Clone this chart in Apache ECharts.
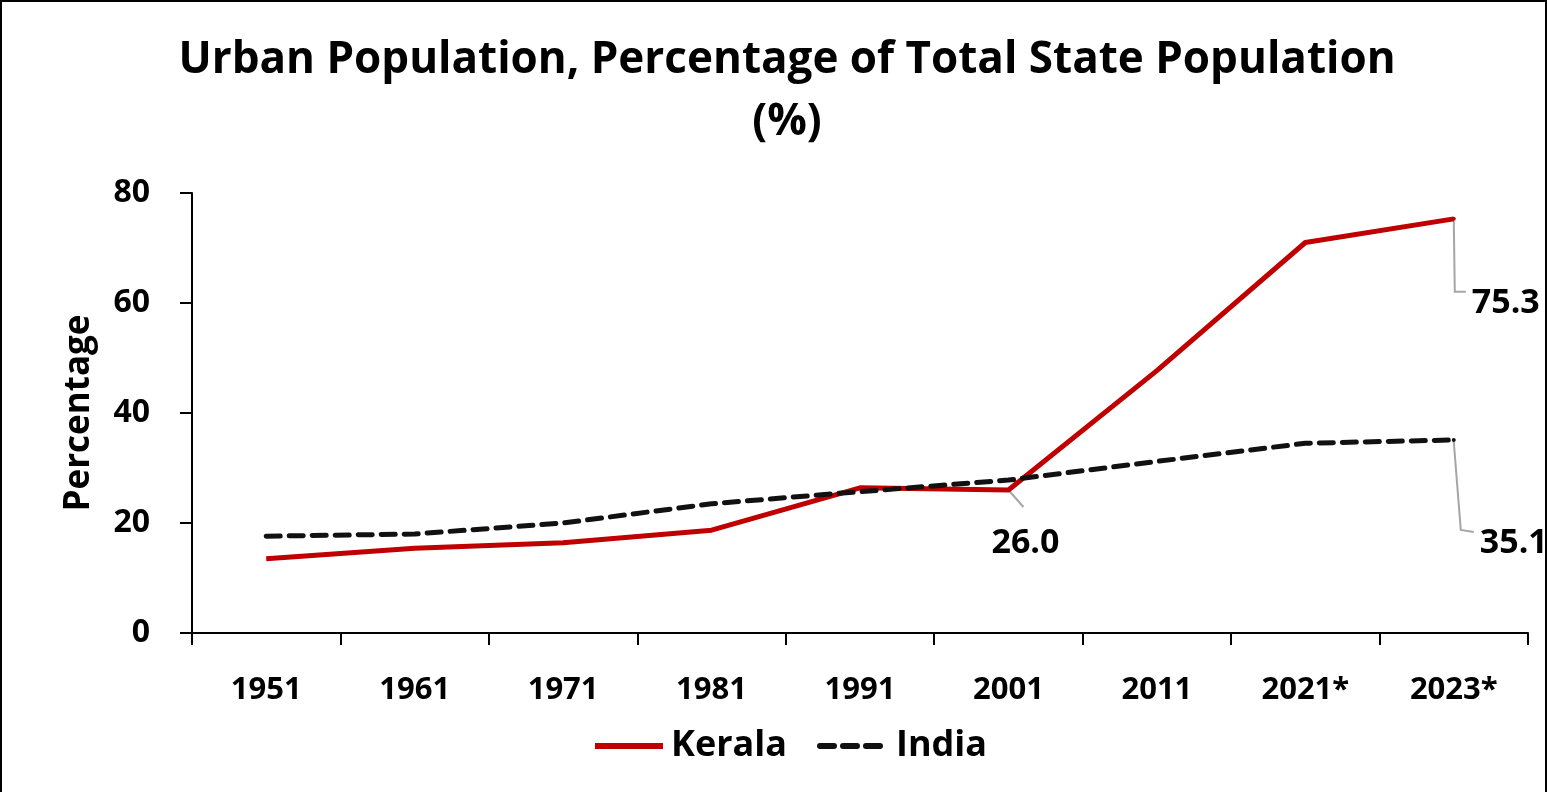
<!DOCTYPE html>
<html>
<head>
<meta charset="utf-8">
<script src="https://cdn.jsdelivr.net/npm/echarts@6/dist/echarts.min.js"></script>
<style>
  html, body { margin: 0; padding: 0; background: #fff; }
  #chart {
    width: 1543px; height: 790px;
    border: 2px solid #000; border-bottom: none;
  }
</style>
</head>
<body>
<div id="chart"></div>
<script>
const years = ['1951', '1961', '1971', '1981', '1991', '2001', '2011', '2021*', '2023*']
const kerala = [13.5, 15.4, 16.4, 18.7, 26.4, 26.0, 47.7, 71.0, 75.3]
const india = [17.6, 18.0, 20.0, 23.5, 25.7, 27.8, 31.2, 34.5, 35.1]
// labelled points: [series, index, label offset, leader line bends (relative)]
const callouts = [
  { s: 0, i: 5, offset: [17, 53], bends: [[0, 0], [15, 17]] },
  { s: 0, i: 8, offset: [52, 84], bends: [[0, 2], [1, 73], [12, 73]] },
  { s: 1, i: 8, offset: [60, 103], bends: [[0, 2], [7, 90], [20, 92]] }
]

const font = '"Open Sans", "Noto Sans", sans-serif'
const chart = echarts.init(document.getElementById('chart'))

const labelled = (arr, s) => arr.map((v, i) => {
  const c = callouts.find(c => c.s === s && c.i === i)
  if (!c) return v
  return {
    value: v, symbol: 'circle', symbolSize: 4,
    label: { show: true, position: 'inside', offset: c.offset, formatter: p => p.value.toFixed(1) }
  }
})

const labelFont = { fontFamily: font, fontWeight: 'bold', fontSize: 34, color: '#000' }

chart.setOption({
  animation: false,
  title: {
    text: 'Urban Population, Percentage of Total State Population\n(%)',
    left: 780,
    textAlign: 'center',
    top: 22,
    textStyle: {
      fontFamily: font, fontWeight: 'bold', fontSize: 44, color: '#000', lineHeight: 62
    }
  },
  legend: {
    bottom: 23,
    left: 585,
    itemWidth: 68,
    itemHeight: 20,
    itemGap: 30,
    itemStyle: { opacity: 0 },
    lineStyle: { width: 6 },
    textStyle: { fontFamily: font, fontWeight: 'bold', fontSize: 36, color: '#000', padding: [0, 0, 0, 3] },
    data: ['Kerala', 'India']
  },
  grid: { left: 190, right: 17, top: 191, bottom: 159 },
  xAxis: {
    type: 'category',
    data: years,
    boundaryGap: true,
    axisLine: { lineStyle: { color: '#000', width: 2 } },
    axisTick: { show: true, length: 12, lineStyle: { color: '#000', width: 2 } },
    axisLabel: { margin: 42, fontFamily: font, fontWeight: 'bold', fontSize: 31, color: '#000' }
  },
  yAxis: {
    type: 'value',
    min: 0, max: 80, interval: 20,
    name: 'Percentage',
    nameLocation: 'middle',
    nameGap: 95,
    nameTextStyle: { fontFamily: font, fontWeight: 'bold', fontSize: 35, color: '#000' },
    axisLine: { show: true, lineStyle: { color: '#000', width: 2 } },
    axisTick: { show: true, length: 12, lineStyle: { color: '#000', width: 2 } },
    splitLine: { show: false },
    axisLabel: { margin: 42, fontFamily: font, fontWeight: 'bold', fontSize: 32, color: '#000' }
  },
  series: [
    {
      name: 'Kerala',
      type: 'line',
      data: labelled(kerala, 0),
      symbol: 'none',
      color: '#C00000',
      itemStyle: { color: '#C00000' },
      lineStyle: { color: '#C00000', width: 5 },
      label: labelFont
    },
    {
      name: 'India',
      type: 'line',
      data: labelled(india, 1),
      symbol: 'none',
      color: '#111',
      itemStyle: { color: '#111' },
      lineStyle: { color: '#111', width: 5, type: [14, 9], cap: 'round' },
      label: labelFont,
      z: 3
    }
  ]
})

// grey leader lines from the point to its label
const data = [kerala, india]
chart.setOption({
  graphic: callouts.map(c => {
    const [px, py] = chart.convertToPixel({ seriesIndex: c.s }, [c.i, data[c.s][c.i]])
    return {
      type: 'polyline',
      silent: true,
      z: 1,
      shape: { points: c.bends.map(([dx, dy]) => [px + dx, py + dy]) },
      style: { stroke: '#a6a6a6', lineWidth: 2, fill: null }
    }
  })
})
</script>
</body>
</html>
